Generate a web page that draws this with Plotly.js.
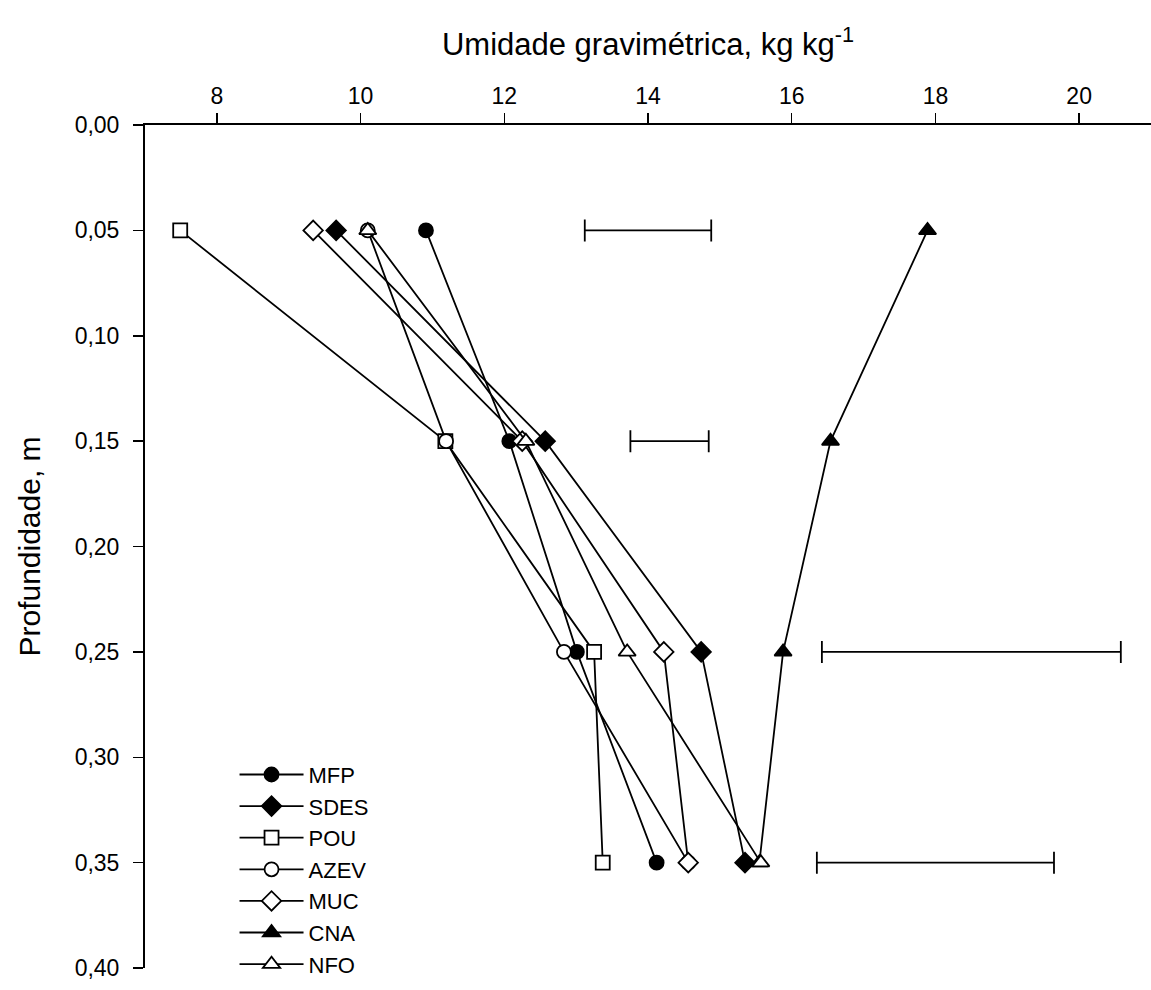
<!DOCTYPE html>
<html>
<head>
<meta charset="utf-8">
<script src="https://cdn.plot.ly/plotly-3.0.1.min.js"></script>
<style>
  html, body { margin: 0; padding: 0; background: #fff; }
  #chart { width: 1151px; height: 990px; }
</style>
</head>
<body>
<div id="chart"></div>
<script>
// Soil depth (m) for each sampling layer
const depth = [0.05, 0.15, 0.25, 0.35];

// Gravimetric moisture per management system
const MFP  = [10.91, 12.07, 13.01, 14.12];
const SDES = [9.66, 12.57, 14.74, 15.35];
const POU  = [7.49, 11.18, 13.25, 13.37];
const AZEV = [10.10, 11.19, 12.83, 14.56];
const MUC  = [9.34, 12.25, 14.22, 14.56];
const CNA  = [17.89, 16.54, 15.88, 15.55];
const NFO  = [10.10, 12.30, 13.71, 15.57];

// Least significant difference bars per layer (centre and half width)
const lsdCenter = [14.00, 14.30, 18.50, 18.00];
const lsdHalf   = [0.88, 0.545, 2.08, 1.65];

// Axis ticks
const xTicks = [8, 10, 12, 14, 16, 18, 20];
const yTicks = [0, 0.05, 0.10, 0.15, 0.20, 0.25, 0.30, 0.35, 0.40];
const yTickText = ["0,00", "0,05", "0,10", "0,15", "0,20", "0,25", "0,30", "0,35", "0,40"];

const FONT = "Liberation Sans, Arial, Helvetica, sans-serif";

function series(name, xs, symbol, filled, size) {
  return {
    type: "scatter",
    mode: "lines+markers",
    name: name,
    x: xs,
    y: depth,
    line: { color: "#000", width: 1.8 },
    marker: {
      symbol: symbol,
      size: size,
      color: filled ? "#000" : "#fff",
      line: { color: "#000", width: 1.8 }
    },
    legendgroup: name,
    hoverinfo: "x+y+name"
  };
}

const traces = [
  series("MFP", MFP, "circle", true, 14),
  series("SDES", SDES, "diamond", true, 15),
  series("POU", POU, "square", false, 14),
  series("AZEV", AZEV, "circle", false, 14),
  series("MUC", MUC, "diamond", false, 15),
  series("CNA", CNA, "triangle-up", true, 15),
  series("NFO", NFO, "triangle-up", false, 15),
  {
    type: "scatter",
    mode: "markers",
    x: lsdCenter,
    y: depth,
    showlegend: false,
    hoverinfo: "skip",
    marker: { size: 1, color: "rgba(0,0,0,0)" },
    error_x: {
      type: "data",
      array: lsdHalf,
      symmetric: true,
      color: "#000",
      thickness: 1.8,
      width: 11
    }
  }
];

const layout = {
  width: 1151,
  height: 990,
  margin: { l: 145, r: 0, t: 125, b: 22, pad: 0 },
  paper_bgcolor: "#fff",
  plot_bgcolor: "#fff",
  font: { family: FONT, size: 23, color: "#000" },
  showlegend: true,
  legend: {
    x: 0.089,
    y: -0.021,
    xanchor: "left",
    yanchor: "bottom",
    bgcolor: "rgba(0,0,0,0)",
    font: { family: FONT, size: 22, color: "#000" },
    tracegroupgap: 0,
    itemwidth: 64
  },
  xaxis: {
    side: "top",
    range: [7, 21],
    tickvals: xTicks,
    ticks: "outside",
    ticklen: 10,
    tickwidth: 1.5,
    tickcolor: "#000",
    showline: true,
    linecolor: "#000",
    linewidth: 2,
    showgrid: false,
    zeroline: false,
    tickfont: { family: FONT, size: 23, color: "#000" },
    title: {
      text: "Umidade gravimétrica, kg kg<sup>-1</sup>",
      font: { family: FONT, size: 31, color: "#000" },
      standoff: 18
    }
  },
  yaxis: {
    range: [0.40, 0],
    tickvals: yTicks,
    ticktext: yTickText,
    ticks: "outside",
    ticklen: 10,
    tickwidth: 1.5,
    tickcolor: "#000",
    showline: true,
    linecolor: "#000",
    linewidth: 2,
    showgrid: false,
    zeroline: false,
    ticklabelstandoff: 9,
    tickfont: { family: FONT, size: 23, color: "#000" },
    title: {
      text: "Profundidade, m",
      font: { family: FONT, size: 30, color: "#000" },
      standoff: 25
    }
  }
};

Plotly.newPlot("chart", traces, layout, { staticPlot: true, displayModeBar: false });
</script>
</body>
</html>
